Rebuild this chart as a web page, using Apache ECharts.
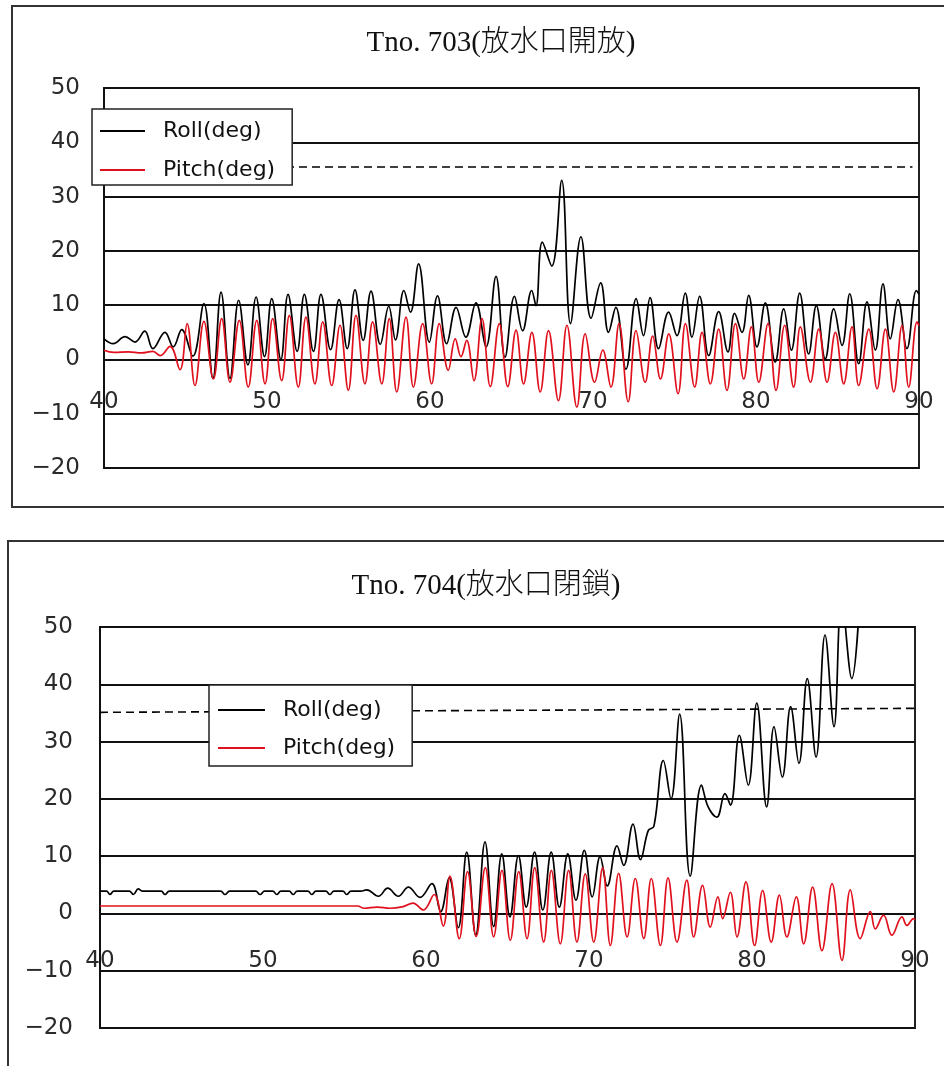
<!DOCTYPE html>
<html>
<head>
<meta charset="utf-8">
<title>Tno.703 / Tno.704 Roll・Pitch</title>
<script src="https://cdn.jsdelivr.net/npm/echarts@6/dist/echarts.min.js"></script>
<style>
  html, body { margin: 0; padding: 0; background: #fff; }
  #chart { width: 944px; height: 1066px; }
</style>
</head>
<body>
<div id="chart"></div>
<script>
// Axis ranges (time in s, angle in deg)
const X_MIN = 40, X_MAX = 90, X_STEP = 10;
const Y_MIN = -20, Y_MAX = 50, Y_STEP = 10;

const titles = ['Tno. 703(放水口開放)', 'Tno. 704(放水口閉鎖)'];
const seriesNames = ['Roll(deg)', 'Pitch(deg)'];

// Dashed reference level (deg), start/end points
const limit703 = [[40, 35.5], [89.6, 35.5]];
const limit704 = [[40, 35.1], [90, 35.8]];

// Tno.703 — turning points of the records, [time, deg]
const roll703 = [
  [40,3.8],[40.57,2.9],[41.29,4.2],[41.9,3.2],[42.5,5.2],[43.0,2.0],[43.74,5.0],[44.25,2.3],
  [44.77,5.5],[45.45,0.6],[46.13,10.3],[46.68,-3.5],[47.18,12.4],[47.73,-3.5],[48.26,10.9],
  [48.83,-1.0],[49.33,11.5],[49.85,0.5],[50.29,11.2],[50.85,0.0],[51.29,12.0],[51.85,1.5],
  [52.29,12.0],[52.85,1.5],[53.31,12.0],[53.9,1.8],[54.42,11.0],[54.92,2.0],[55.4,12.8],
  [55.9,3.5],[56.38,12.6],[56.95,2.8],[57.47,9.8],[57.88,3.6],[58.4,12.7],[58.8,8.7],
  [59.3,17.6],[59.96,3.2],[60.46,11.7],[61.02,2.9],[61.6,9.6],[62.2,4.1],[62.82,10.4],
  [63.44,2.3],[64.05,15.3],[64.6,0.4],[65.18,11.6],[65.68,5.3],[66.24,12.7],[66.5,9.9],
  [66.89,21.6],[67.47,17.2],[68.08,33.0],[68.62,6.6],[69.26,22.6],[69.88,7.6],[70.47,14.1],
  [70.95,5.0],[71.4,9.6],[72.02,-1.8],[72.65,11.2],[73.1,4.4],[73.5,11.4],[74.02,2.0],
  [74.64,8.7],[75.15,4.4],[75.66,12.2],[76.07,4.1],[76.54,11.6],[77.1,0.7],[77.71,8.8],
  [78.28,1.4],[78.69,8.5],[79.14,5.0],[79.55,11.8],[80.06,2.3],[80.57,10.4],[81.18,-0.5],
  [81.7,9.3],[82.17,1.7],[82.68,12.2],[83.23,1.0],[83.7,9.9],[84.25,0.1],[84.77,9.3],
  [85.28,2.6],[85.75,12.1],[86.3,-0.8],[86.81,10.6],[87.32,1.7],[87.79,13.9],[88.24,3.8],
  [88.71,11.0],[89.26,2.0],[89.84,12.7],[90,12.0]
];
const pitch703 = [
  [40,1.7],[40.6,1.3],[41.5,1.4],[42.3,1.2],[43.0,1.5],[43.45,0.7],[44.05,2.4],[44.66,-1.9],
  [45.1,6.6],[45.58,-4.8],[46.13,7.0],[46.71,-3.6],[47.22,7.5],[47.73,-4.2],[48.3,7.2],
  [48.85,-5.1],[49.37,7.2],[49.88,-4.5],[50.35,7.5],[50.9,-3.9],[51.37,8.1],[51.92,-5.1],
  [52.39,7.8],[52.94,-4.5],[53.42,6.9],[53.97,-4.8],[54.48,6.3],[54.99,-5.7],[55.46,8.1],
  [56.01,-4.5],[56.48,6.9],[57.04,-4.5],[57.5,7.5],[57.96,-6.0],[58.53,7.8],[58.98,-5.1],
  [59.55,6.6],[60.1,-4.5],[60.57,6.6],[61.12,-2.0],[61.55,3.8],[61.9,0.5],[62.25,3.5],
  [62.7,-3.9],[63.19,7.5],[63.7,-5.0],[64.25,6.6],[64.77,-5.0],[65.28,5.4],[65.74,-4.5],
  [66.25,5.0],[66.76,-6.0],[67.27,5.3],[67.88,-7.6],[68.4,6.3],[69.01,-8.8],[69.52,4.7],
  [70.1,-4.2],[70.6,1.7],[71.1,-5.1],[71.6,6.6],[72.16,-7.8],[72.64,5.3],[73.2,-4.2],
  [73.66,4.3],[74.14,-3.6],[74.65,4.7],[75.22,-6.3],[75.67,6.6],[76.24,-5.1],[76.69,5.0],
  [77.2,-4.5],[77.71,5.6],[78.22,-5.7],[78.74,6.6],[79.25,-3.6],[79.72,6.0],[80.17,-4.2],
  [80.74,6.6],[81.23,-5.7],[81.76,6.3],[82.31,-5.1],[82.72,6.0],[83.34,-4.2],[83.85,5.6],
  [84.36,-4.2],[84.87,5.0],[85.38,-4.5],[85.89,6.0],[86.3,-4.8],[86.92,5.6],[87.43,-5.4],
  [87.94,5.6],[88.45,-6.0],[88.96,6.3],[89.37,-5.1],[89.88,6.9],[90,6.2]
];

// Tno.704 — turning points of the records, [time, deg]
const roll704 = [
  [40,3.9],[40.4,3.9],[40.61,3.3],[40.85,3.9],[41.8,3.9],[42.05,3.3],[42.35,4.3],[42.6,3.9],
  [43.75,3.9],[43.99,3.3],[44.25,3.9],[47.4,3.9],[47.67,3.3],[47.95,3.9],[49.55,3.9],
  [49.82,3.3],[50.1,3.9],[50.6,3.9],[50.84,3.3],[51.1,3.9],[51.6,3.9],[51.86,3.3],[52.1,3.9],
  [52.75,3.9],[52.99,3.3],[53.25,3.9],[53.85,3.9],[54.11,3.3],[54.35,3.9],[54.9,3.9],
  [55.13,3.3],[55.4,3.9],[56.0,3.9],[56.36,4.1],[57.08,3.0],[57.65,4.4],[58.3,3.0],
  [58.92,4.6],[59.63,2.8],[60.36,5.2],[60.9,0.3],[61.42,6.2],[61.98,-2.5],[62.5,10.7],
  [63.05,-3.8],[63.62,12.5],[64.15,-2.3],[64.65,10.4],[65.15,-0.6],[65.67,10.1],[66.15,1.1],
  [66.66,10.7],[67.17,0.6],[67.68,10.7],[68.18,1.1],[68.7,10.4],[69.2,2.3],[69.71,11.0],
  [70.2,2.9],[70.68,9.9],[71.12,4.8],[71.72,11.8],[72.13,8.4],[72.7,15.6],[73.16,9.4],
  [73.64,14.5],[73.98,15.2],[74.56,26.7],[75.03,20.0],[75.56,34.8],[76.21,6.5],[76.9,22.4],
  [77.31,18.6],[77.84,16.8],[78.34,20.9],[78.68,18.9],[79.22,31.1],[79.77,22.4],[80.29,36.7],
  [80.9,18.6],[81.35,32.6],[81.86,23.8],[82.37,36.1],[82.88,26.2],[83.39,41.0],[83.93,27.3],
  [84.48,48.6],[85.03,32.6],[85.5,55.0],[86.12,41.0],[86.7,60.0]
];
const pitch704 = [
  [40,1.3],[45,1.3],[50,1.3],[55.8,1.3],[56.2,0.9],[57.0,1.1],[57.8,0.9],[58.6,1.2],
  [59.2,1.8],[59.84,0.6],[60.5,3.3],[61.06,-2.2],[61.47,6.5],[62.04,-4.4],[62.55,7.3],
  [63.08,-4.0],[63.64,8.0],[64.15,-4.1],[64.66,7.5],[65.17,-4.7],[65.69,7.3],[66.2,-4.4],
  [66.67,8.0],[67.22,-5.0],[67.69,7.5],[68.24,-5.3],[68.75,7.5],[69.26,-5.0],[69.77,6.9],
  [70.29,-5.0],[70.84,8.0],[71.31,-5.6],[71.82,7.0],[72.34,-4.1],[72.84,6.1],[73.36,-4.4],
  [73.82,6.1],[74.38,-5.6],[74.85,6.2],[75.4,-5.0],[76.0,5.8],[76.42,-4.1],[76.97,4.9],
  [77.44,-2.4],[77.91,2.9],[78.2,-0.9],[78.67,3.7],[79.08,-4.1],[79.63,5.5],[80.16,-5.6],
  [80.65,4.0],[81.18,-5.0],[81.68,3.2],[82.14,-4.1],[82.72,2.9],[83.17,-5.3],[83.72,4.6],
  [84.29,-6.5],[84.91,5.2],[85.52,-8.2],[86.03,4.1],[86.64,-4.4],[87.26,0.3],[87.56,-2.7],
  [88.07,-0.3],[88.58,-3.8],[89.2,-0.6],[89.5,-2.1],[89.92,-0.9],[90,-1.1]
];

const ROLL_COLOR = '#000000';
const PITCH_COLOR = '#e0101c';
const LABEL_FONT = 'DejaVu Sans';
const TITLE_FONT = '"Liberation Serif", "Noto Sans CJK JP", serif';

// Panel geometry (pixels)
const panels = [
  { grid: { left: 104, top: 88, width: 815, height: 380 }, xLabelMargin: 31, yLabelMargin: 24,
    frame: { x: 12, y: 6, width: 1000, height: 501 }, title: { x: 501, y: 43 },
    legend: { left: 92, top: 109, padding: [11, 17, 4, 8], itemGap: 17, itemWidth: 45 } },
  { grid: { left: 100, top: 627, width: 815, height: 401 }, xLabelMargin: 36, yLabelMargin: 27,
    frame: { x: 8, y: 541, width: 1000, height: 600 }, title: { x: 486, y: 586 },
    legend: { left: 209, top: 685, padding: [14, 17, 7, 9], itemGap: 16, itemWidth: 47 } }
];
const rollData = [roll703, roll704];
const pitchData = [pitch703, pitch704];
const limits = [limit703, limit704];

const minusSign = v => String(v).replace('-', '\u2212');

const grids = [], xAxes = [], yAxes = [], series = [], legends = [], graphics = [];
panels.forEach((p, i) => {
  grids.push(Object.assign({ show: true, borderColor: '#222', borderWidth: 2, backgroundColor: '#fff' }, p.grid));
  // the time axis crosses the angle axis at 0 deg: lift it from the bottom edge by the 0..Y_MIN span
  const zeroLift = p.grid.height * (0 - Y_MIN) / (Y_MAX - Y_MIN);
  xAxes.push({
    type: 'value', gridIndex: i, min: X_MIN, max: X_MAX, interval: X_STEP,
    position: 'bottom', offset: -zeroLift,
    axisLine: { onZero: false, lineStyle: { color: '#111', width: 2 } },
    axisTick: { show: false },
    splitLine: { show: false },
    axisLabel: { margin: p.xLabelMargin, fontFamily: LABEL_FONT, fontSize: 23, color: '#2a2a2a' }
  });
  yAxes.push({
    type: 'value', gridIndex: i, min: Y_MIN, max: Y_MAX, interval: Y_STEP,
    axisLine: { show: true, lineStyle: { color: '#111', width: 2 } },
    axisTick: { show: false },
    splitLine: { show: true, lineStyle: { color: '#111', width: 2 } },
    axisLabel: { margin: p.yLabelMargin, fontFamily: LABEL_FONT, fontSize: 23, color: '#2a2a2a', formatter: minusSign }
  });
  series.push({
    type: 'line', name: seriesNames[0], xAxisIndex: i, yAxisIndex: i,
    data: rollData[i], symbol: 'none', smooth: 0.4, clip: true,
    lineStyle: { color: ROLL_COLOR, width: 1.7 }, itemStyle: { color: ROLL_COLOR },
    z: 3,
    markLine: {
      silent: true, symbol: ['none', 'none'], label: { show: false },
      lineStyle: { color: '#000', width: 1.6, type: [8, 5] },
      data: [[{ coord: limits[i][0] }, { coord: limits[i][1] }]]
    }
  });
  series.push({
    type: 'line', name: seriesNames[1], xAxisIndex: i, yAxisIndex: i,
    data: pitchData[i], symbol: 'none', smooth: 0.4, clip: true,
    lineStyle: { color: PITCH_COLOR, width: 1.7 }, itemStyle: { color: PITCH_COLOR },
    z: 4
  });
  legends.push({
    data: seriesNames, orient: 'vertical', left: p.legend.left, top: p.legend.top,
    padding: p.legend.padding, itemGap: p.legend.itemGap,
    itemWidth: p.legend.itemWidth, itemHeight: 2, icon: 'rect',
    backgroundColor: '#fff', borderColor: '#222', borderWidth: 1.5, borderRadius: 0,
    selectedMode: false, z: 10,
    textStyle: { fontFamily: LABEL_FONT, fontSize: 22, lineHeight: 22, color: '#111', padding: [0, 0, 0, 13] }
  });
  graphics.push({
    type: 'rect', z: 0, silent: true,
    shape: p.frame,
    style: { fill: 'none', stroke: '#333', lineWidth: 2 }
  });
  graphics.push({
    type: 'text', z: 10, silent: true, x: p.title.x, y: p.title.y,
    style: { text: titles[i], font: '300 29px ' + TITLE_FONT, fill: '#111', textAlign: 'center', textVerticalAlign: 'middle' }
  });
});

const chart = echarts.init(document.getElementById('chart'), null, { renderer: 'canvas' });
chart.setOption({
  animation: false,
  backgroundColor: '#fff',
  grid: grids,
  xAxis: xAxes,
  yAxis: yAxes,
  legend: legends,
  series: series,
  graphic: graphics
});
</script>
</body>
</html>
